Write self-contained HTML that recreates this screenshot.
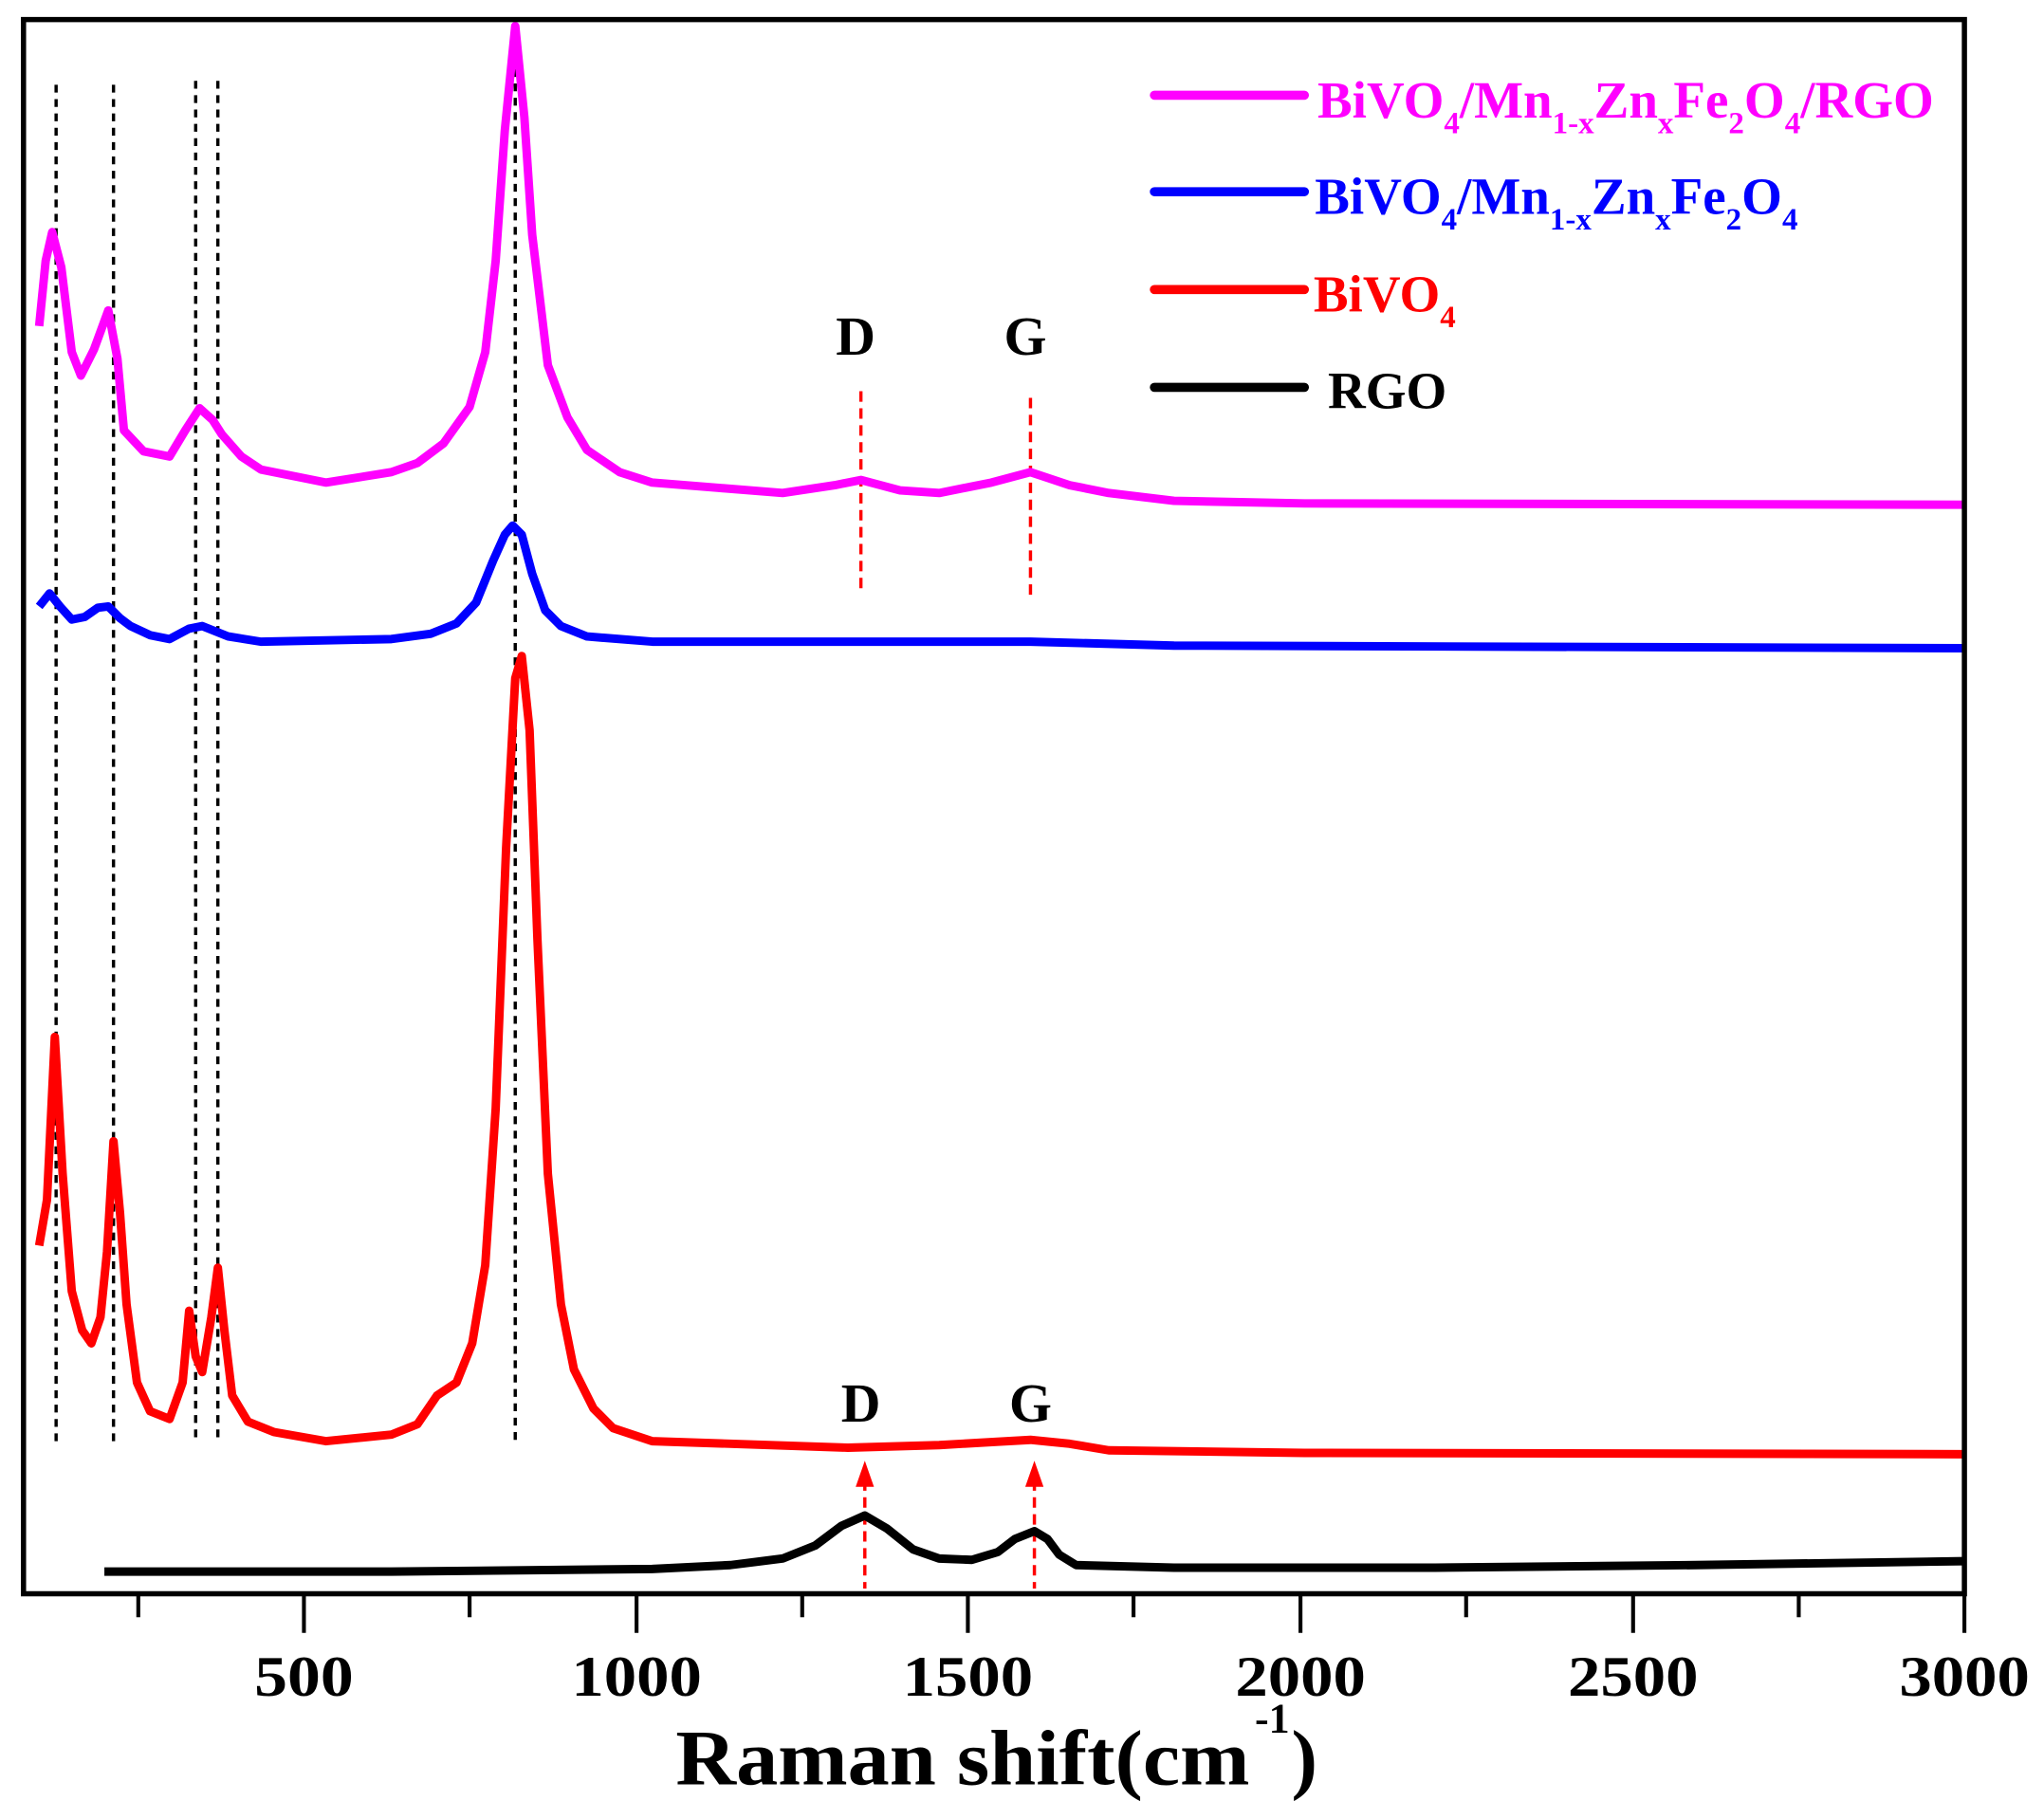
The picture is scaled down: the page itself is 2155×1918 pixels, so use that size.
<!DOCTYPE html>
<html><head><meta charset="utf-8"><style>html,body{margin:0;padding:0;background:#fff}svg{display:block}</style></head>
<body>
<svg width="2155" height="1918" viewBox="0 0 1567 1394.7" xmlns="http://www.w3.org/2000/svg" font-family="Liberation Serif, serif" font-weight="bold">
<rect width="1567" height="1395" fill="#fff"/>
<g stroke="#000" stroke-width="2.5" stroke-dasharray="6,5">
<line x1="43" y1="65" x2="43" y2="1105"/>
<line x1="87" y1="65" x2="87" y2="1105"/>
<line x1="150" y1="62" x2="150" y2="1105"/>
<line x1="167" y1="62" x2="167" y2="1105"/>
<line x1="395" y1="20" x2="395" y2="1108"/>
</g>
<g stroke="#f00" stroke-width="2.5" stroke-dasharray="8,5">
<line x1="660" y1="300" x2="660" y2="455"/>
<line x1="790" y1="305" x2="790" y2="460"/>
<line x1="663" y1="1135" x2="663" y2="1218"/>
<line x1="793" y1="1135" x2="793" y2="1218"/>
</g>
<polygon points="656,1140 663,1120 670,1140" fill="#f00"/>
<polygon points="786,1140 793,1120 800,1140" fill="#f00"/>
<g fill="none" stroke-width="6.5" stroke-linejoin="round">
<polyline stroke="#f0f" points="30,250 35,200 40,178 47,205 55,270 62,288 72,268 83,238 90,275 95,330 110,346 130,350 142,330 153,313 163,322 170,333 185,350 200,360 250,370 300,362 320,355 340,340 360,312 372,270 380,200 387,100 395,20 402,90 408,180 420,280 435,320 450,345 475,362 500,370 550,374 600,378 640,372 660,368 690,376 720,378 760,370 790,362 820,372 850,378 900,384 1000,386 1506,387"/>
<polyline stroke="#00f" points="30,465 38,455 46,465 55,475 65,473 75,466 83,465 92,474 100,480 115,487 130,490 145,482 155,480 165,484 175,488 200,492 300,490 330,486 350,478 365,462 378,430 387,410 393,403 400,410 408,440 418,468 430,480 450,488 500,492 790,492 900,495 1506,497"/>
<polyline stroke="#f00" points="30,955 36,920 42,795 48,900 55,990 63,1020 70,1030 77,1010 82,960 87,875 92,930 97,1000 105,1060 115,1082 130,1088 140,1060 145,1005 150,1040 155,1052 162,1010 167,972 172,1020 178,1070 190,1090 210,1098 250,1105 300,1100 320,1092 335,1070 350,1060 362,1030 372,970 380,850 388,650 395,520 400,503 406,560 412,720 420,900 430,1000 440,1050 455,1080 470,1095 500,1105 650,1110 720,1108 790,1104 820,1107 850,1112 1000,1114 1506,1115"/>
<polyline stroke="#000" points="80,1205 300,1205 500,1203 560,1200 600,1195 625,1185 645,1170 663,1162 680,1172 700,1188 720,1195 745,1196 765,1190 778,1180 793,1174 803,1180 812,1192 825,1200 900,1202 1100,1202 1300,1200 1506,1197"/>
</g>
<rect x="18" y="15" width="1488" height="1207" fill="none" stroke="#000" stroke-width="4"/>
<g stroke="#000" stroke-width="3">
<line x1="233" y1="1222" x2="233" y2="1252"/><line x1="488" y1="1222" x2="488" y2="1252"/><line x1="742" y1="1222" x2="742" y2="1252"/><line x1="997" y1="1222" x2="997" y2="1252"/><line x1="1252" y1="1222" x2="1252" y2="1252"/><line x1="1506" y1="1222" x2="1506" y2="1252"/>
<line x1="106" y1="1222" x2="106" y2="1240"/><line x1="360" y1="1222" x2="360" y2="1240"/><line x1="615" y1="1222" x2="615" y2="1240"/><line x1="869" y1="1222" x2="869" y2="1240"/><line x1="1124" y1="1222" x2="1124" y2="1240"/><line x1="1379" y1="1222" x2="1379" y2="1240"/>
</g>
<g font-size="44" text-anchor="middle" fill="#000">
<text x="233" y="1300" textLength="76" lengthAdjust="spacingAndGlyphs">500</text>
<text x="488" y="1300" textLength="100" lengthAdjust="spacingAndGlyphs">1000</text>
<text x="742" y="1300" textLength="100" lengthAdjust="spacingAndGlyphs">1500</text>
<text x="997" y="1300" textLength="100" lengthAdjust="spacingAndGlyphs">2000</text>
<text x="1252" y="1300" textLength="100" lengthAdjust="spacingAndGlyphs">2500</text>
<text x="1506" y="1300" textLength="100" lengthAdjust="spacingAndGlyphs">3000</text>
</g>
<text x="518" y="1368" font-size="60" textLength="440" lengthAdjust="spacingAndGlyphs">Raman shift(cm</text>
<text x="962" y="1328" font-size="32">-1</text>
<text x="990" y="1368" font-size="60">)</text>
<g font-size="42" text-anchor="middle">
<text x="656" y="272">D</text><text x="786" y="272">G</text>
<text x="660" y="1090">D</text><text x="790" y="1090">G</text>
</g>
<g stroke-width="7" stroke-linecap="round">
<line x1="885" y1="73" x2="1000" y2="73" stroke="#f0f"/>
<line x1="885" y1="147" x2="1000" y2="147" stroke="#00f"/>
<line x1="885" y1="222" x2="1000" y2="222" stroke="#f00"/>
<line x1="885" y1="297" x2="1000" y2="297" stroke="#000"/>
</g>
<g font-size="40">
<text x="1010" y="90" fill="#f0f">BiVO<tspan font-size="24" dy="12">4</tspan><tspan dy="-12">/Mn</tspan><tspan font-size="24" dy="12">1-x</tspan><tspan dy="-12">Zn</tspan><tspan font-size="24" dy="12">x</tspan><tspan dy="-12">Fe</tspan><tspan font-size="24" dy="12">2</tspan><tspan dy="-12">O</tspan><tspan font-size="24" dy="12">4</tspan><tspan dy="-12">/RGO</tspan></text>
<text x="1008" y="164" fill="#00f">BiVO<tspan font-size="24" dy="12">4</tspan><tspan dy="-12">/Mn</tspan><tspan font-size="24" dy="12">1-x</tspan><tspan dy="-12">Zn</tspan><tspan font-size="24" dy="12">x</tspan><tspan dy="-12">Fe</tspan><tspan font-size="24" dy="12">2</tspan><tspan dy="-12">O</tspan><tspan font-size="24" dy="12">4</tspan></text>
<text x="1007" y="239" fill="#f00">BiVO<tspan font-size="24" dy="12">4</tspan></text>
<text x="1018" y="313" fill="#000">RGO</text>
</g>
</svg>
</body></html>
